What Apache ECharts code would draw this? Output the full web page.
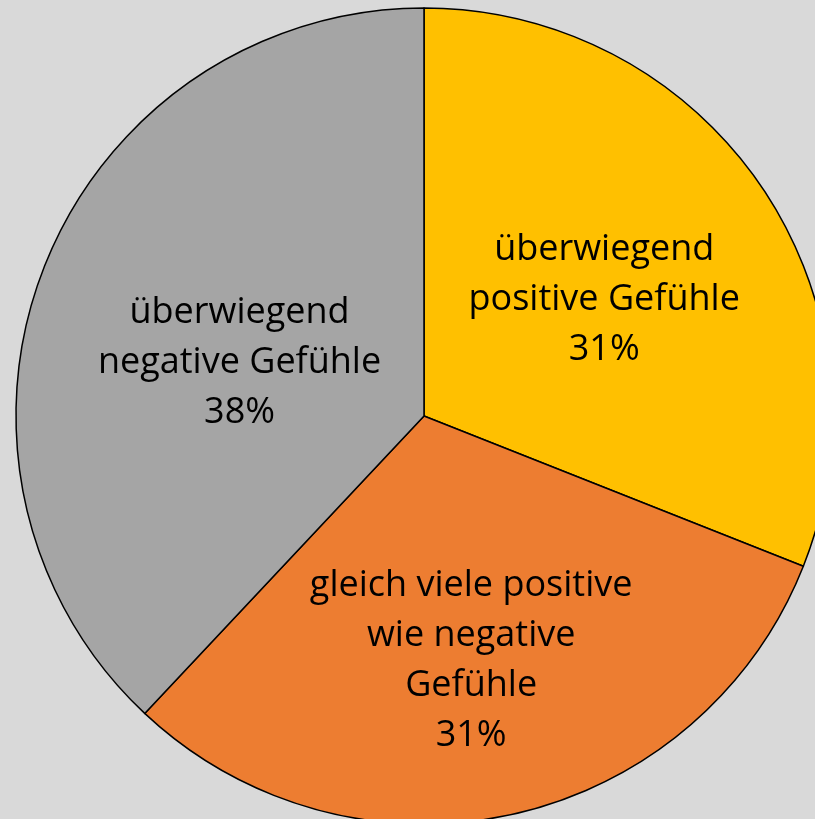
<!DOCTYPE html>
<html>
<head>
<meta charset="utf-8">
<script src="https://cdn.jsdelivr.net/npm/echarts@6/dist/echarts.min.js"></script>
<style>
html,body{margin:0;padding:0;background:#d9d9d9;}
#c{width:815px;height:819px;}
</style>
</head>
<body>
<div id="c"></div>
<script>
const categories = ["überwiegend\npositive Gefühle", "gleich viele positive\nwie negative\nGefühle", "überwiegend\nnegative Gefühle"];
const values = [31, 31, 38];
const colors = ["#FFC000", "#ED7D31", "#A5A5A5"];
const labelOffsets = [[9, 0], [2, 43], [8, 23]];

const chart = echarts.init(document.getElementById('c'), null, {renderer: 'canvas'});
chart.setOption({
  backgroundColor: '#d9d9d9',
  animation: false,
  series: [{
    type: 'pie',
    center: [424, 416],
    radius: [0, 408],
    startAngle: 90,
    clockwise: true,
    avoidLabelOverlap: false,
    itemStyle: { borderColor: '#000', borderWidth: 1.5 },
    label: {
      show: true,
      position: 'inside',
      formatter: p => p.name + '\n' + p.value + '%',
      color: '#000',
      fontFamily: 'Open Sans',
      fontSize: 36,
      lineHeight: 50,
      align: 'center'
    },
    labelLine: { show: false },
    data: categories.map((n, i) => ({
      name: n, value: values[i],
      itemStyle: { color: colors[i] },
      label: { offset: labelOffsets[i] }
    }))
  }]
});
</script>
</body>
</html>
